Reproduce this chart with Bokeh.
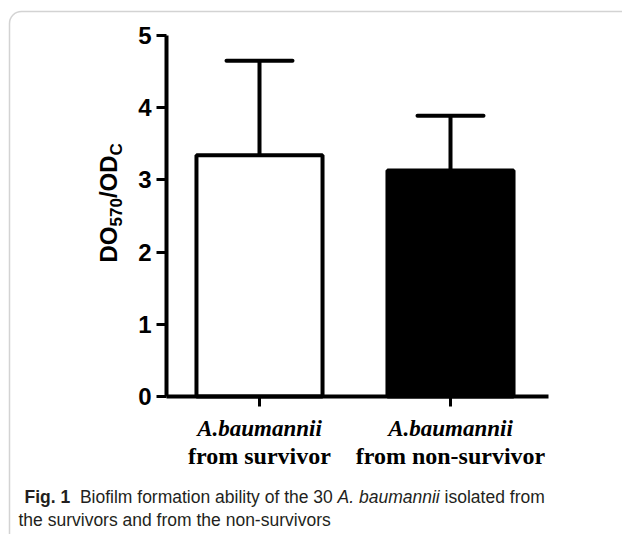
from math import pi
from bokeh.plotting import figure
from bokeh.models import (Range1d, FixedTicker, Label, BoxAnnotation, Whisker,
                          TeeHead, ColumnDataSource)
from bokeh.embed import file_html
from bokeh.resources import INLINE

# ---------------- data ----------------
species = ["A.baumannii", "A.baumannii"]
origins = ["from survivor", "from non-survivor"]
means = [3.34, 3.13]
sds = [1.31, 0.76]
y_ticks = [0, 1, 2, 3, 4, 5]
fills = ["white", "black"]

# ---------------- canvas geometry (pixels) ----------------
W, H = 622, 534
AX_L, AX_R, Y5, Y0 = 166, 548, 35, 396   # axis extents on the canvas
XC1, XSTEP = 259, 191                     # first category centre, spacing
YSTEP = (Y0 - Y5) / 5.0                   # pixels per unit of y
BASE_SHIFT = 0.3                          # baseline correction (em)

xs = list(range(1, len(means) + 1))
x0 = 1 - XC1 / XSTEP
x1 = x0 + W / XSTEP
y1 = Y0 / YSTEP
y0 = -(H - Y0) / YSTEP


def px(x):
    return x0 + x / XSTEP


def py(y):
    return (Y0 - y) / YSTEP


p = figure(width=W, height=H, x_range=Range1d(x0, x1), y_range=Range1d(y0, y1),
           output_backend="svg", toolbar_location=None, min_border=0)
p.outline_line_color = None
p.xgrid.visible = False
p.ygrid.visible = False

# rounded border of the figure panel
p.add_layout(BoxAnnotation(left=px(9), right=px(700), top=py(11), bottom=py(600),
                           fill_color=None, line_color="#6e6e6e", line_width=1.5,
                           border_radius=12, level="underlay"))

src = ColumnDataSource(dict(x=xs, top=means,
                            upper=[m + s for m, s in zip(means, sds)],
                            fill=fills))

p.vbar(x="x", top="top", bottom=0, width=0.66, fill_color="fill",
       line_color="black", line_width=4, source=src)
p.add_layout(Whisker(base="x", lower="top", upper="upper", source=src,
                     dimension="height", line_width=4, line_color="black",
                     upper_head=TeeHead(size=66, line_width=4, line_color="black",
                                        line_cap="round"),
                     lower_head=None))

# axes (drawn at fixed data locations so the frame can fill the canvas)
for ax in (p.xaxis[0], p.yaxis[0]):
    ax.axis_line_width = 4
    ax.axis_line_color = "black"
    ax.major_tick_in = 0
    ax.major_tick_out = 10
    ax.major_tick_line_width = 3
    ax.major_tick_line_color = "black"
    ax.minor_tick_line_color = None
    ax.major_label_text_color = "black"

p.yaxis.fixed_location = px(AX_L)
p.yaxis.bounds = (0, 5)
p.yaxis.ticker = FixedTicker(ticks=y_ticks)
p.yaxis.major_label_text_font = "Liberation Sans"
p.yaxis.major_label_text_font_style = "bold"
p.yaxis.major_label_text_font_size = "24px"
p.yaxis.major_label_standoff = 5

p.xaxis.fixed_location = 0
p.xaxis.bounds = (px(AX_L), px(AX_R))
p.xaxis.ticker = FixedTicker(ticks=xs)
p.xaxis.major_label_overrides = {x: o for x, o in zip(xs, origins)}
p.xaxis.major_label_text_font = "Liberation Serif"
p.xaxis.major_label_text_font_style = "bold"
p.xaxis.major_label_text_font_size = "24px"
p.xaxis.major_label_standoff = 36


def label(text, x, y, size, **kw):
    p.add_layout(Label(x=px(x), y=py(y - BASE_SHIFT * size), text=text,
                       text_baseline="alphabetic", text_font_size=f"{size}px",
                       **kw))


# first line of the category labels (bold italic species name)
for xv, s in zip(xs, species):
    p.add_layout(Label(x=xv, y=py(435 - BASE_SHIFT * 23), text=s,
                       text_align="center", text_baseline="alphabetic",
                       text_font="Liberation Serif", text_font_style="bold italic",
                       text_font_size="23px", text_color="black"))

# y axis title: DO570/ODc built from pieces (rotated, reading upwards)
ylab = [("DO", 262, 115, 24), ("570", 226, 121, 17),
        ("/", 197.6, 115, 24), ("OD", 190.9, 115, 24),
        ("C", 154.9, 121, 17)]
for t, yy, xx, fs in ylab:
    p.add_layout(Label(x=px(xx - BASE_SHIFT * fs), y=py(yy), text=t,
                       angle=pi / 2, text_align="left", text_baseline="alphabetic",
                       text_font="Liberation Sans", text_font_style="bold",
                       text_font_size=f"{fs}px", text_color="black"))

# caption
CAP = "#231f20"
cap = [("Fig. 1", 24, 502, "bold"),
       ("Biofilm formation ability of the 30", 79.4, 502, "normal"),
       ("A. baumannii", 337.1, 502, "italic"),
       ("isolated from", 444.1, 502, "normal"),
       ("the survivors and from the non-survivors", 18, 525, "normal")]
for t, xx, yy, st in cap:
    label(t, xx, yy, 17.5, text_align="left", text_font="Liberation Sans",
          text_font_style=st, text_color=CAP)

open("out.html", "w").write(file_html(p, INLINE))
